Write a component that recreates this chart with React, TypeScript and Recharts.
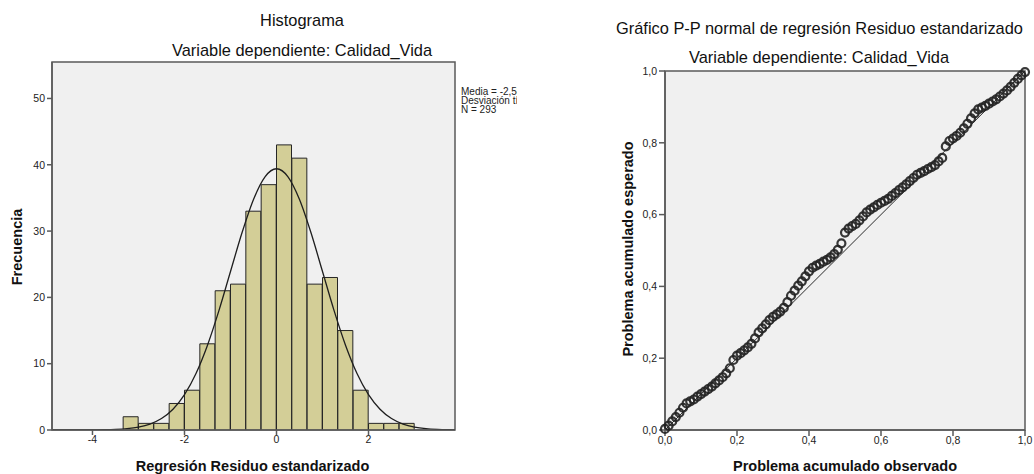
import React from 'react';
import {
  ComposedChart,
  ScatterChart,
  Bar,
  Line,
  Scatter,
  XAxis,
  YAxis,
  CartesianGrid,
  ReferenceArea,
  ReferenceLine,
} from 'recharts';

// Histograma: centros de clase (ancho 1/3) y frecuencias
const binCenters = [
  -3.1667, -2.8333, -2.5, -2.1667, -1.8333, -1.5, -1.1667, -0.8333, -0.5, -0.1667,
  0.1667, 0.5, 0.8333, 1.1667, 1.5, 1.8333, 2.1667, 2.5, 2.8333,
];
const binCounts = [2, 1, 1, 4, 6, 13, 21, 22, 33, 37, 43, 41, 22, 23, 15, 6, 1, 1, 1];

// Curva normal
const curveX = [
  -4.88, -4.5, -4.25, -4, -3.75, -3.5, -3.25, -3, -2.75, -2.5, -2.25, -2, -1.75, -1.5, -1.25,
  -1, -0.75, -0.5, -0.25, 0, 0.25, 0.5, 0.75, 1, 1.25, 1.5, 1.75, 2, 2.25, 2.5, 2.75, 3, 3.25,
  3.5, 3.75, 3.88,
];
const curveY = [
  0, 0.002, 0.005, 0.013, 0.035, 0.086, 0.2, 0.44, 0.9, 1.73, 3.14, 5.33, 8.52, 12.79, 18.04,
  23.9, 29.74, 34.77, 38.19, 39.4, 38.19, 34.77, 29.74, 23.9, 18.04, 12.79, 8.52, 5.33, 3.14,
  1.73, 0.9, 0.44, 0.2, 0.086, 0.035, 0.02,
];

const histTicksX = [-4, -2, 0, 2];
const histTicksY = [0, 10, 20, 30, 40, 50];

// Gráfico P-P: probabilidad acumulada observada / esperada
const ppObserved = [
  0, 0.01, 0.02, 0.03, 0.04, 0.05, 0.06, 0.07, 0.08, 0.09, 0.1, 0.11, 0.12, 0.13, 0.14, 0.15,
  0.16, 0.17, 0.18, 0.19, 0.2, 0.21, 0.22, 0.23, 0.24, 0.25, 0.26, 0.27, 0.28, 0.29, 0.3, 0.31,
  0.32, 0.33, 0.34, 0.35, 0.36, 0.37, 0.38, 0.39, 0.4, 0.41, 0.42, 0.43, 0.44, 0.45, 0.46, 0.47,
  0.48, 0.49, 0.5, 0.51, 0.52, 0.53, 0.54, 0.55, 0.56, 0.57, 0.58, 0.59, 0.6, 0.61, 0.62, 0.63,
  0.64, 0.65, 0.66, 0.67, 0.68, 0.69, 0.7, 0.71, 0.72, 0.73, 0.74, 0.75, 0.76, 0.77, 0.78, 0.79,
  0.8, 0.81, 0.82, 0.83, 0.84, 0.85, 0.86, 0.87, 0.88, 0.89, 0.9, 0.91, 0.92, 0.93, 0.94, 0.95,
  0.96, 0.97, 0.98, 0.99, 1,
];
const ppExpected = [
  0.003, 0.012, 0.024, 0.036, 0.048, 0.062, 0.074, 0.08, 0.085, 0.093, 0.1, 0.107, 0.114, 0.121,
  0.13, 0.138, 0.147, 0.158, 0.172, 0.195, 0.207, 0.214, 0.222, 0.23, 0.24, 0.255, 0.272, 0.283,
  0.294, 0.306, 0.315, 0.322, 0.33, 0.34, 0.356, 0.374, 0.388, 0.402, 0.414, 0.428, 0.442, 0.452,
  0.458, 0.463, 0.469, 0.474, 0.481, 0.49, 0.502, 0.52, 0.55, 0.561, 0.568, 0.574, 0.584, 0.595,
  0.606, 0.614, 0.62, 0.627, 0.633, 0.638, 0.644, 0.652, 0.66, 0.668, 0.676, 0.684, 0.693, 0.702,
  0.711, 0.716, 0.721, 0.727, 0.732, 0.738, 0.748, 0.758, 0.79, 0.805, 0.812, 0.819, 0.828, 0.84,
  0.853, 0.868, 0.882, 0.893, 0.898, 0.903, 0.909, 0.915, 0.921, 0.929, 0.937, 0.946, 0.956,
  0.967, 0.978, 0.988, 0.997,
];
const ppTicks = [0, 0.2, 0.4, 0.6, 0.8, 1];

const FONT = "Arial, 'Liberation Sans', sans-serif";
const PLOT_BG = '#f0f0f0';
const BORDER = '#5a5a5a';

const histData = binCenters.map((x, i) => ({ x, count: binCounts[i] }));
const curveData = curveX.map((x, i) => ({ x, y: curveY[i] }));
const ppData = ppObserved.map((x, i) => ({ x, y: ppExpected[i] }));

const commaFmt = (v: number) => v.toFixed(1).replace('.', ',');
const tickStyle = { fill: '#222', fontSize: 10.5, fontFamily: FONT };

// puntos del P-P: circulos huecos que se solapan en una banda oscura
const Circle = (p: any) => (
  <circle cx={p.cx} cy={p.cy} r={4} fill="none" stroke="#222" strokeWidth={2.2} strokeOpacity={0.9} />
);

function Histogram() {
  const xDom: [number, number] = [-4.88, 3.88];
  const yDom: [number, number] = [0, 55.5];
  return (
    <ComposedChart
      width={520}
      height={474}
      data={histData}
      margin={{ top: 62, right: 65, bottom: 24, left: 0 }}
      barCategoryGap={0}
      barGap={0}
    >
      <CartesianGrid fill={PLOT_BG} horizontal={false} vertical={false} />
      <XAxis
        dataKey="x"
        type="number"
        domain={xDom}
        ticks={histTicksX}
        allowDataOverflow
        height={20}
        stroke={BORDER}
        strokeWidth={1.5}
        tickSize={5}
        tickMargin={1}
        tick={tickStyle}
      />
      <XAxis xAxisId="curve" dataKey="x" type="number" domain={xDom} allowDataOverflow hide />
      <YAxis
        type="number"
        domain={yDom}
        ticks={histTicksY}
        allowDataOverflow
        width={52}
        stroke={BORDER}
        strokeWidth={1.5}
        tickSize={5}
        tickMargin={2}
        tick={tickStyle}
      />
      <Bar dataKey="count" fill="#d3ce97" stroke="#262626" strokeWidth={1} isAnimationActive={false} />
      <Line
        data={curveData}
        xAxisId="curve"
        dataKey="y"
        type="monotone"
        dot={false}
        stroke="#1e1e1e"
        strokeWidth={1.3}
        isAnimationActive={false}
      />
      <ReferenceArea
        x1={xDom[0]}
        x2={xDom[1]}
        y1={yDom[0]}
        y2={yDom[1]}
        fill="none"
        stroke={BORDER}
        strokeWidth={1.5}
        ifOverflow="visible"
      />
    </ComposedChart>
  );
}

function PPPlot() {
  return (
    <ScatterChart width={454} height={474} margin={{ top: 71, right: 9, bottom: 24, left: 45 }}>
      <CartesianGrid fill={PLOT_BG} horizontal={false} vertical={false} />
      <XAxis
        dataKey="x"
        type="number"
        domain={[0, 1]}
        ticks={ppTicks}
        tickFormatter={commaFmt}
        height={20}
        stroke={BORDER}
        strokeWidth={1.5}
        tickSize={6}
        tickMargin={1}
        tick={tickStyle}
      />
      <YAxis
        dataKey="y"
        type="number"
        domain={[0, 1]}
        ticks={ppTicks}
        tickFormatter={commaFmt}
        width={40}
        stroke={BORDER}
        strokeWidth={1.5}
        tickSize={6}
        tickMargin={2}
        tick={tickStyle}
      />
      <ReferenceArea x1={0} x2={1} y1={0} y2={1} fill="none" stroke={BORDER} strokeWidth={1.5} />
      <ReferenceLine segment={[{ x: 0, y: 0 }, { x: 1, y: 1 }]} stroke="#2a2a2a" strokeWidth={1} />
      <Scatter data={ppData} shape={Circle} isAnimationActive={false} />
    </ScatterChart>
  );
}

export default function App() {
  return (
    <div
      style={{
        position: 'fixed',
        left: 0,
        top: 0,
        width: 1034,
        height: 474,
        background: '#fff',
        fontFamily: FONT,
        overflow: 'hidden',
      }}
    >
      <div style={{ position: 'absolute', left: 0, top: 0 }}>
        <Histogram />
      </div>
      <div style={{ position: 'absolute', left: 580, top: 0 }}>
        <PPPlot />
      </div>
      <svg
        width={1034}
        height={474}
        style={{ position: 'absolute', left: 0, top: 0, pointerEvents: 'none' }}
        fontFamily={FONT}
      >
        <defs>
          <clipPath id="legclip">
            <rect x={455} y={80} width={62} height={40} />
          </clipPath>
        </defs>
        <g fill="#111" fontSize={16.4} textAnchor="middle">
          <text x={302} y={26}>Histograma</text>
          <text x={302} y={56}>Variable dependiente: Calidad_Vida</text>
          <text x={819.5} y={34}>Gráfico P-P normal de regresión Residuo estandarizado</text>
          <text x={819} y={63}>Variable dependiente: Calidad_Vida</text>
        </g>
        <g fill="#111" fontSize={14.5} fontWeight="bold" textAnchor="middle">
          <text x={252.5} y={471}>Regresión Residuo estandarizado</text>
          <text x={845} y={471}>Problema acumulado observado</text>
          <text transform="translate(22,247) rotate(-90)">Frecuencia</text>
          <text transform="translate(632.5,249) rotate(-90)">Problema acumulado esperado</text>
        </g>
        <g fill="#222" fontSize={10} clipPath="url(#legclip)">
          <text x={461} y={95}>Media = -2,58E-15</text>
          <text x={461} y={104}>Desviación típica = 0,998</text>
          <text x={461} y={113}>N = 293</text>
        </g>
      </svg>
    </div>
  );
}
